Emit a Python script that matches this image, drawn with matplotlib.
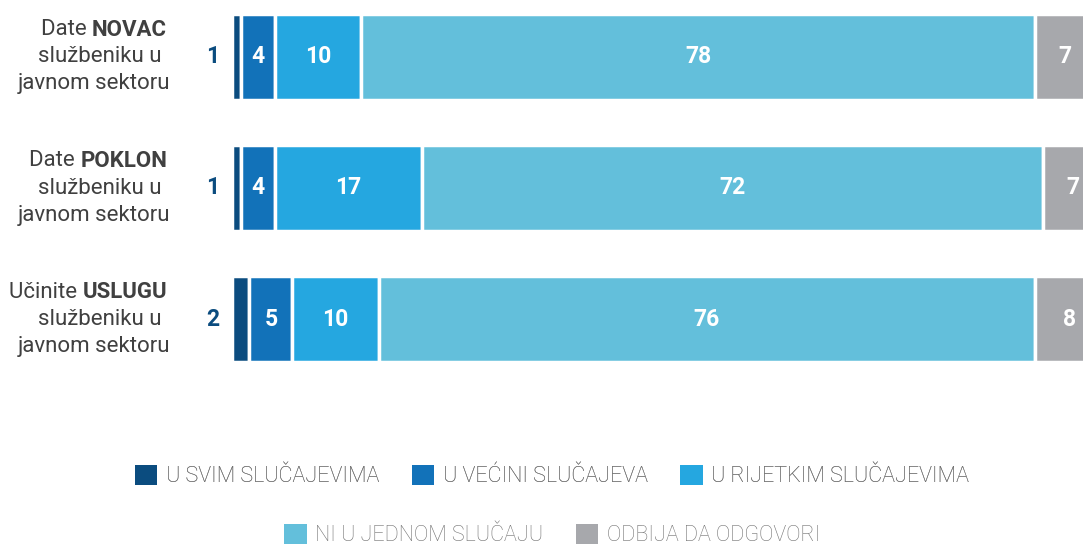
import matplotlib.pyplot as plt
import matplotlib.transforms as mtrans
from matplotlib.patches import Patch

# data
items = ['NOVAC', 'POKLON', 'USLUGU']
prefixes = ['Date ', 'Date ', 'Učinite ']
series = ['U SVIM SLUČAJEVIMA', 'U VEĆINI SLUČAJEVA', 'U RIJETKIM SLUČAJEVIMA',
          'NI U JEDNOM SLUČAJU', 'ODBIJA DA ODGOVORI']
svim = [1, 1, 2]
vecini = [4, 4, 5]
rijetkim = [10, 17, 10]
nijednom = [78, 72, 76]
odbija = [7, 7, 8]

colors = ['#0b4c7f', '#1272b9', '#25a7e0', '#63bfdb', '#a7a8ac']
plt.rcParams['font.family'] = ['Roboto', 'DejaVu Sans']

fig = plt.figure(figsize=(10.83, 5.45), dpi=100)
ax = fig.add_axes([232 / 1083, 1 - 361 / 545, 863 / 1083, 346 / 545])

values = [svim, vecini, rijetkim, nijednom, odbija]
y = list(range(len(items)))
left = [0] * len(items)
for vals, col in zip(values, colors):
    ax.barh(y, vals, left=left, height=0.66, color=col,
            edgecolor='white', linewidth=2.5)
    for i, v in enumerate(vals):
        cx = left[i] + v / 2
        if v < 3:
            # small values go outside, left of the bar
            ax.annotate(str(v), (0, i), xytext=(-9, 0), textcoords='offset points',
                        ha='right', va='center', fontsize=16.5, fontweight='bold',
                        color=colors[0])
        else:
            ax.text(cx, i, str(v), ha='center', va='center', fontsize=16.5,
                    fontweight='bold', color='white')
    left = [l + v for l, v in zip(left, vals)]

ax.set_xlim(0, 100)
ax.set_ylim(2.32, -0.32)
ax.axis('off')

# category labels with bold keyword
lbl_x = 167 / 1083
tr = mtrans.blended_transform_factory(fig.transFigure, ax.transData)
off = 27 / 131
for i in y:
    b = ax.text(lbl_x, i - off, items[i], transform=tr, ha='right', va='center',
                fontsize=16, fontweight='bold', color='#404040')
    ax.annotate(prefixes[i], xy=(0, 0.5), xycoords=b, ha='right', va='center',
                fontsize=16, color='#404040')
    ax.text(lbl_x, i, 'službeniku u ', transform=tr, ha='right', va='center',
            fontsize=16, color='#404040')
    ax.text(lbl_x + 3 / 1083, i + off, 'javnom sektoru', transform=tr, ha='right',
            va='center', fontsize=16, color='#404040')

handles = [Patch(facecolor=c, edgecolor='none') for c in colors]
kw = dict(frameon=False, handlelength=1.05, handleheight=1.05,
          handletextpad=0.4, columnspacing=1.5, labelcolor='#707070',
          prop={'weight': 'light', 'size': 15.5})
leg1 = fig.legend(handles[:3], series[:3], loc='center', ncol=3,
                  bbox_to_anchor=(552 / 1083, 1 - 476 / 545), **kw)
fig.add_artist(leg1)
fig.legend(handles[3:], series[3:], loc='center', ncol=2,
           bbox_to_anchor=(552 / 1083, 1 - 535 / 545), **kw)

fig.savefig('out.png', dpi=100)
